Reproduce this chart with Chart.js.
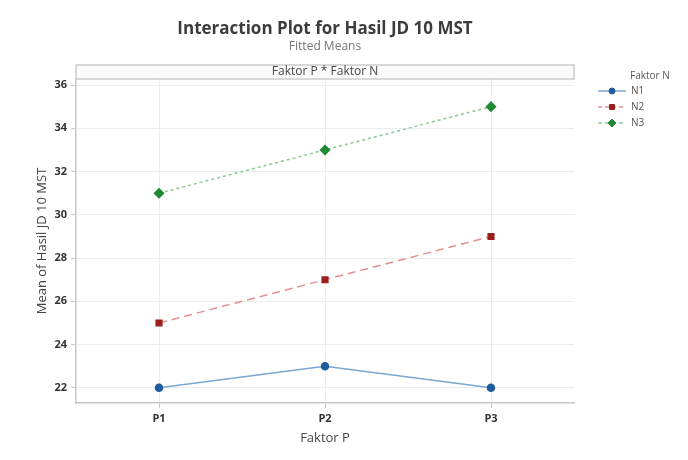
<!DOCTYPE html>
<html>
<head>
<meta charset="utf-8">
<script src="https://cdn.jsdelivr.net/npm/chart.js@4.4.1/dist/chart.umd.min.js"></script>
<style>
  html, body { margin: 0; padding: 0; background: #fff; }
  #wrap { width: 688px; height: 460px; position: relative; }
</style>
</head>
<body>
<div id="wrap"><canvas id="chart" width="688" height="460"></canvas></div>
<script>
// Interaction plot: Faktor P x Faktor N

const categories = ['P1', 'P2', 'P3'];
const n1Values = [22, 23, 22];
const n2Values = [25, 27, 29];
const n3Values = [31, 33, 35];
const yTicks = [22, 24, 26, 28, 30, 32, 34, 36];

const FONT = '"Open Sans", "Noto Sans", sans-serif';

const seriesStyle = [
  { label: 'N1', data: n1Values, line: '#7ba7d4', point: '#1f5b9e', shape: 'circle', radius: 3.5, dash: [] },
  { label: 'N2', data: n2Values, line: '#e39090', point: '#9b1f1f', shape: 'rect', radius: 4, dash: [8, 5] },
  { label: 'N3', data: n3Values, line: '#86cc94', point: '#1f8a34', shape: 'rectRot', radius: 4.5, dash: [3, 3] },
];

/**
 * Titles, panel strip and legend drawn around the chart area
 */
const decorPlugin = {
  id: 'decor',
  afterDraw(chart) {
    const { ctx, chartArea } = chart;
    const { left, right, top } = chartArea;
    ctx.save();

    // titles
    ctx.textAlign = 'center';
    ctx.fillStyle = '#3c3c3c';
    ctx.font = `bold 17px ${FONT}`;
    ctx.fillText('Interaction Plot for Hasil JD 10 MST', 325, 34);
    ctx.fillStyle = '#777';
    ctx.font = `12px ${FONT}`;
    ctx.fillText('Fitted Means', 325, 50);

    // panel strip
    ctx.fillStyle = '#fbfbfb';
    ctx.fillRect(left, top - 14, right - left, 14);
    ctx.strokeStyle = '#cccccc';
    ctx.lineWidth = 1.5;
    ctx.strokeRect(left, top - 14, right - left, 14);
    ctx.fillStyle = '#444';
    ctx.font = `12px ${FONT}`;
    ctx.textBaseline = 'middle';
    ctx.fillText('Faktor P * Faktor N', (left + right) / 2, top - 7);

    // legend
    ctx.textAlign = 'left';
    ctx.fillStyle = '#555';
    ctx.font = `10px ${FONT}`;
    ctx.fillText('Faktor N', 630, 76);
    seriesStyle.forEach((s, i) => {
      const y = 91 + i * 16;
      ctx.strokeStyle = s.line;
      ctx.lineWidth = 1.5;
      ctx.setLineDash(s.dash.length ? [4, 3] : []);
      ctx.beginPath();
      ctx.moveTo(598, y);
      ctx.lineTo(626, y);
      ctx.stroke();
      ctx.setLineDash([]);
      ctx.fillStyle = s.point;
      ctx.strokeStyle = s.point;
      ctx.lineWidth = 1;
      Chart.helpers.drawPoint(ctx, {
        pointStyle: s.shape, radius: s.radius - 0.5, rotation: 0, borderWidth: 1,
      }, 612, y);
      ctx.fillStyle = '#555';
      ctx.fillText(s.label, 631, y);
    });

    ctx.restore();
  },
};

const ctx = document.getElementById('chart');

new Chart(ctx, {
  type: 'line',
  data: {
    labels: categories,
    datasets: seriesStyle.map((s) => ({
      label: s.label,
      data: s.data,
      borderColor: s.line,
      borderWidth: 1.5,
      borderDash: s.dash,
      backgroundColor: s.point,
      pointBackgroundColor: s.point,
      pointBorderColor: s.point,
      pointStyle: s.shape,
      pointRadius: s.radius,
      tension: 0,
    })),
  },
  options: {
    responsive: false,
    animation: false,
    layout: { padding: { top: 79, right: 114, bottom: 10, left: 30 } },
    plugins: {
      legend: { display: false },
      title: { display: false },
      tooltip: { enabled: false },
    },
    scales: {
      x: {
        type: 'category',
        offset: true,
        grid: { offset: false, color: '#ececec', tickLength: 5, tickColor: '#c8c8c8' },
        border: { color: '#c8c8c8', width: 1.5 },
        ticks: { color: '#333', font: { family: FONT, size: 11, weight: 'bold' }, padding: 4 },
        title: { display: true, text: 'Faktor P', color: '#444', font: { family: FONT, size: 13 }, padding: { top: 4 } },
        afterFit(scale) { scale.height = 47; },
      },
      y: {
        min: 21.3,
        max: 36.28,
        afterBuildTicks(scale) { scale.ticks = yTicks.map((v) => ({ value: v })); },
        grid: { color: '#ececec', tickLength: 5, tickColor: '#c8c8c8' },
        border: { color: '#c8c8c8', width: 1.5 },
        ticks: { color: '#333', font: { family: FONT, size: 11, weight: 'bold' }, padding: 4 },
        title: { display: true, text: 'Mean of Hasil JD 10 MST', color: '#444', font: { family: FONT, size: 13 }, padding: { bottom: 2 } },
        afterFit(scale) { scale.width = 46; },
      },
    },
  },
  plugins: [decorPlugin],
});
</script>
</body>
</html>
